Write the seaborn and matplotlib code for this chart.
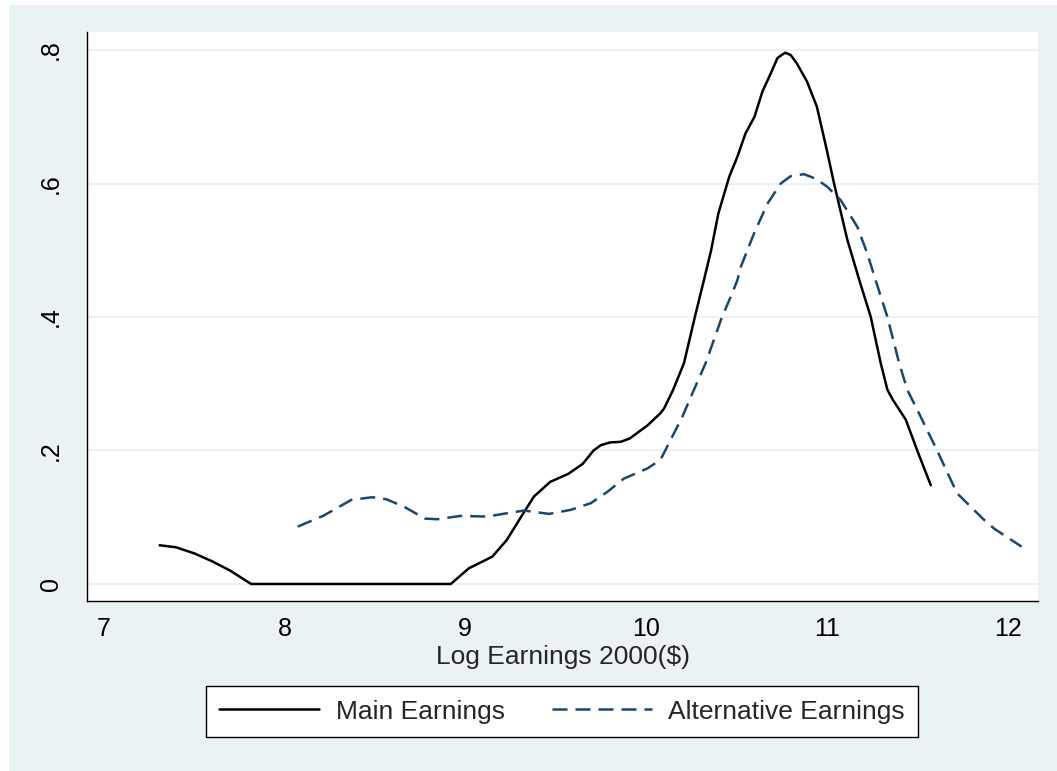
import matplotlib
matplotlib.use("Agg")
import matplotlib.pyplot as plt
from matplotlib.patches import Rectangle
import numpy as np
import pandas as pd
import seaborn as sns

# Kernel density estimates of log earnings
main_x = [7.31, 7.40, 7.50, 7.60, 7.70, 7.816, 8.0, 8.5, 8.92, 9.02, 9.15, 9.23,
          9.31, 9.38, 9.47, 9.57, 9.65, 9.71, 9.75, 9.80, 9.86, 9.91, 10.01, 10.08,
          10.10, 10.15, 10.21, 10.27, 10.32, 10.36, 10.40, 10.46, 10.505, 10.55, 10.60,
          10.644, 10.69, 10.727, 10.75, 10.77, 10.80, 10.834, 10.89, 10.945, 11.0,
          11.04, 11.114, 11.18, 11.243, 11.298, 11.335, 11.365, 11.437, 11.50, 11.575]
main_y = [0.058, 0.055, 0.046, 0.034, 0.020, 0.0, 0.0, 0.0, 0.0, 0.0235, 0.041, 0.066,
          0.101, 0.131, 0.153, 0.165, 0.180, 0.200, 0.208, 0.212, 0.213, 0.218, 0.238, 0.256,
          0.263, 0.291, 0.331, 0.400, 0.455, 0.500, 0.555, 0.610, 0.640, 0.675, 0.700,
          0.738, 0.765, 0.788, 0.7925, 0.796, 0.7925, 0.780, 0.753, 0.715, 0.650,
          0.600, 0.515, 0.455, 0.400, 0.331, 0.291, 0.276, 0.246, 0.200, 0.148]

alt_x = [8.074, 8.214, 8.37, 8.486, 8.563, 8.66, 8.777, 8.845, 8.974, 9.12, 9.232,
         9.325, 9.463, 9.583, 9.694, 9.786, 9.878, 10.007, 10.08, 10.20, 10.265,
         10.33, 10.42, 10.468, 10.505, 10.524, 10.597, 10.672, 10.745, 10.80, 10.874,
         10.94, 11.003, 11.077, 11.169, 11.224, 11.27, 11.335, 11.40, 11.445,
         11.52, 11.61, 11.72, 11.87, 11.925, 12.077]
alt_y = [0.086, 0.102, 0.126, 0.130, 0.127, 0.116, 0.098, 0.097, 0.102, 0.101, 0.106,
         0.110, 0.105, 0.111, 0.121, 0.138, 0.158, 0.173, 0.186, 0.250, 0.291,
         0.331, 0.400, 0.430, 0.455, 0.475, 0.525, 0.570, 0.600, 0.611, 0.614,
         0.607, 0.595, 0.575, 0.535, 0.495, 0.455, 0.400, 0.331, 0.291,
         0.250, 0.200, 0.136, 0.096, 0.083, 0.056]

series_names = ["Main Earnings", "Alternative Earnings"]
x_ticks = [7, 8, 9, 10, 11, 12]
y_ticks = [0, 0.2, 0.4, 0.6, 0.8]
y_tick_labels = ["0", ".2", ".4", ".6", ".8"]
x_label = "Log Earnings 2000($)"

df = pd.concat([
    pd.DataFrame({"x": main_x, "y": main_y, "series": series_names[0]}),
    pd.DataFrame({"x": alt_x, "y": alt_y, "series": series_names[1]}),
], ignore_index=True)

sns.set_style("white")
plt.rcParams["font.family"] = ["Liberation Sans", "DejaVu Sans"]

BG = "#EAF2F3"
NAVY = "#1A476F"
W, H = 1057, 771
fig = plt.figure(figsize=(W / 100, H / 100), dpi=100, facecolor="white")
fig.patches.append(Rectangle((9 / W, 0), 1 - 9 / W, 1 - 5 / H, transform=fig.transFigure,
                             facecolor=BG, edgecolor="none", zorder=-10))
ax = fig.add_axes([87 / W, 1 - 601 / H, (1038 - 87) / W, (601 - 32) / H])
ax.set_facecolor("white")

sns.lineplot(data=df, x="x", y="y", hue="series", style="series",
             palette={series_names[0]: "black", series_names[1]: NAVY},
             dashes={series_names[0]: "", series_names[1]: (6.0, 3.2)},
             estimator=None, sort=False, linewidth=1.8, ax=ax)
for line in ax.get_lines():
    line.set_solid_joinstyle("round")
    line.set_dash_joinstyle("round")

ax.set_xlim(6.908, 12.168)
ax.set_ylim(-0.0255, 0.827)
ax.set_xticks(x_ticks)
ax.set_xticklabels([str(v) for v in x_ticks])
ax.set_yticks(y_ticks)
ax.set_yticklabels(y_tick_labels, rotation=90, va="center")
ax.yaxis.grid(True, color=BG, linewidth=1.5)
ax.xaxis.grid(False)
ax.set_axisbelow(True)

for side in ["top", "right"]:
    ax.spines[side].set_visible(False)
for side in ["left", "bottom"]:
    ax.spines[side].set_color("black")
    ax.spines[side].set_linewidth(1.0)

ax.tick_params(axis="both", direction="out", length=6.5, width=1.0, color="black",
               labelsize=18, labelcolor="black")
ax.tick_params(axis="x", pad=5)
ax.tick_params(axis="y", pad=11)
ax.set_xlabel(x_label, fontsize=19, labelpad=3)
ax.set_ylabel("")

handles, labels = ax.get_legend_handles_labels()
leg = ax.legend(handles, labels, loc="center", bbox_to_anchor=(562 / W, 1 - 711.5 / H),
                bbox_transform=fig.transFigure, ncol=2, fontsize=19, frameon=True,
                fancybox=False, edgecolor="black", facecolor="white", framealpha=1,
                handlelength=3.8, handletextpad=0.62, columnspacing=1.78,
                borderpad=0.5, borderaxespad=0)
leg.get_frame().set_linewidth(1.0)
for h in leg.get_lines():
    h.set_linewidth(1.8)

fig.savefig("out.png", dpi=100, facecolor=fig.get_facecolor())
